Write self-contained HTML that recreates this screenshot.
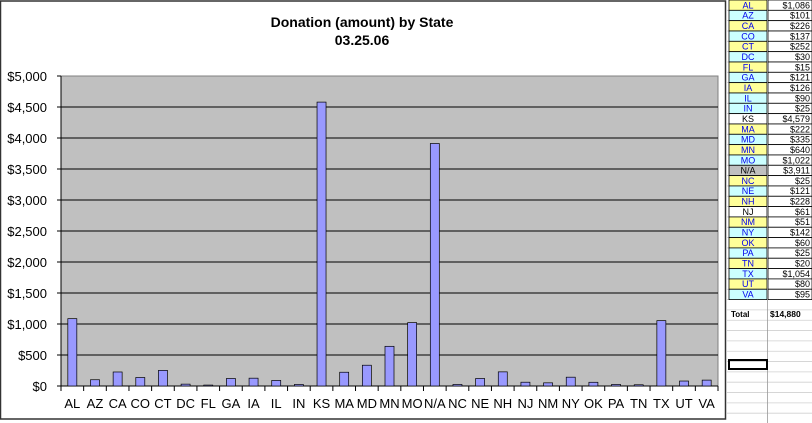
<!DOCTYPE html>
<html><head><meta charset="utf-8"><style>
html,body{margin:0;padding:0;background:#fff;width:812px;height:423px;overflow:hidden}
svg{display:block;font-family:"Liberation Sans",Arial,sans-serif}
</style></head><body>
<svg id="s" width="812" height="423" xmlns="http://www.w3.org/2000/svg">
<rect x="0" y="0" width="812" height="423" fill="#fff"/>
<rect x="0.5" y="1" width="725" height="418" fill="#fff" stroke="#333" stroke-width="1.5"/>
<text x="362" y="27" text-anchor="middle" font-size="14" font-weight="bold">Donation (amount) by State</text>
<text x="362" y="45" text-anchor="middle" font-size="14" font-weight="bold">03.25.06</text>
<rect x="61" y="76" width="657" height="310" fill="#c0c0c0" stroke="#808080"/>
<g id="g"></g>
</svg>
<script>
var g=document.getElementById('g'),h='';
var st=['AL','AZ','CA','CO','CT','DC','FL','GA','IA','IL','IN','KS','MA','MD','MN','MO','N/A','NC','NE','NH','NJ','NM','NY','OK','PA','TN','TX','UT','VA'];
var v=[1086,101,226,137,252,30,15,121,126,90,25,4579,222,335,640,1022,3911,25,121,228,61,51,142,60,25,20,1054,80,95];
var col=['y','c','y','c','y','c','y','c','y','c','c','w','y','c','y','c','g','y','c','y','w','y','c','y','c','y','c','y','c'];
var cm={y:'#ffff99',c:'#ccffff',w:'#fff',g:'#c0c0c0'};
var L=61,R=718,B=386,T=76,sp=(R-L)/29;
for(var i=0;i<=10;i++){var y=B-i*31;
 if(i>0&&i<10)h+='<line x1="61" x2="718" y1="'+y+'" y2="'+y+'" stroke="#000" stroke-width="1"/>';
 h+='<line x1="57" x2="61" y1="'+y+'" y2="'+y+'" stroke="#000"/>';
 var t='$'+(i*500).toLocaleString('en-US');
 h+='<text x="47" y="'+(y+5)+'" text-anchor="end" font-size="13">'+t+'</text>';}
h+='<line x1="61" x2="61" y1="76" y2="386" stroke="#000"/><line x1="61" x2="718" y1="386" y2="386" stroke="#000"/>';
for(var i=0;i<29;i++){var cx=L+sp*(i+0.5),bh=v[i]*0.062;
 h+='<rect x="'+(cx-4.5)+'" y="'+(B-bh)+'" width="9" height="'+bh+'" fill="#9999ff" stroke="#000" stroke-width="0.7"/>';
 h+='<line x1="'+(L+sp*i)+'" x2="'+(L+sp*i)+'" y1="386" y2="391" stroke="#000"/>';
 h+='<text x="'+cx+'" y="408" text-anchor="middle" font-size="13">'+st[i]+'</text>';}
h+='<line x1="718" x2="718" y1="386" y2="391" stroke="#000"/>';
// spreadsheet
var rh=10.33;
h+='<rect x="727" y="0" width="85" height="423" fill="#fff"/>';
for(var r=0;r<42;r++){var y=r*rh;
 h+='<line x1="727" x2="812" y1="'+(y+rh)+'" y2="'+(y+rh)+'" stroke="#d0d0d0" stroke-width="0.8"/>';}
for(var i=0;i<29;i++){var y=i*rh;
 h+='<rect x="729" y="'+y+'" width="38" height="'+rh+'" fill="'+cm[col[i]]+'" stroke="#000" stroke-width="0.8"/>';
 h+='<rect x="768" y="'+y+'" width="44" height="'+rh+'" fill="#fff" stroke="#000" stroke-width="0.8"/>';
 var tc=(col[i]=='w'||col[i]=='g')?'#000':'#0000ee';
 h+='<text x="748" y="'+(y+8.3)+'" text-anchor="middle" font-size="9" fill="'+tc+'">'+st[i]+'</text>';
 h+='<text x="810" y="'+(y+8.3)+'" text-anchor="end" font-size="9">$'+v[i].toLocaleString('en-US')+'</text>';}
h+='<line x1="767.5" x2="767.5" y1="0" y2="423" stroke="#999" stroke-width="0.8"/>';
h+='<text x="731" y="317" font-size="8" font-weight="bold">Total</text><text x="770" y="317" font-size="8.5" font-weight="bold">$14,880</text>';
h+='<rect x="729" y="360" width="38" height="9" fill="none" stroke="#000" stroke-width="2"/>';
g.innerHTML=h;
</script>
</body></html>
